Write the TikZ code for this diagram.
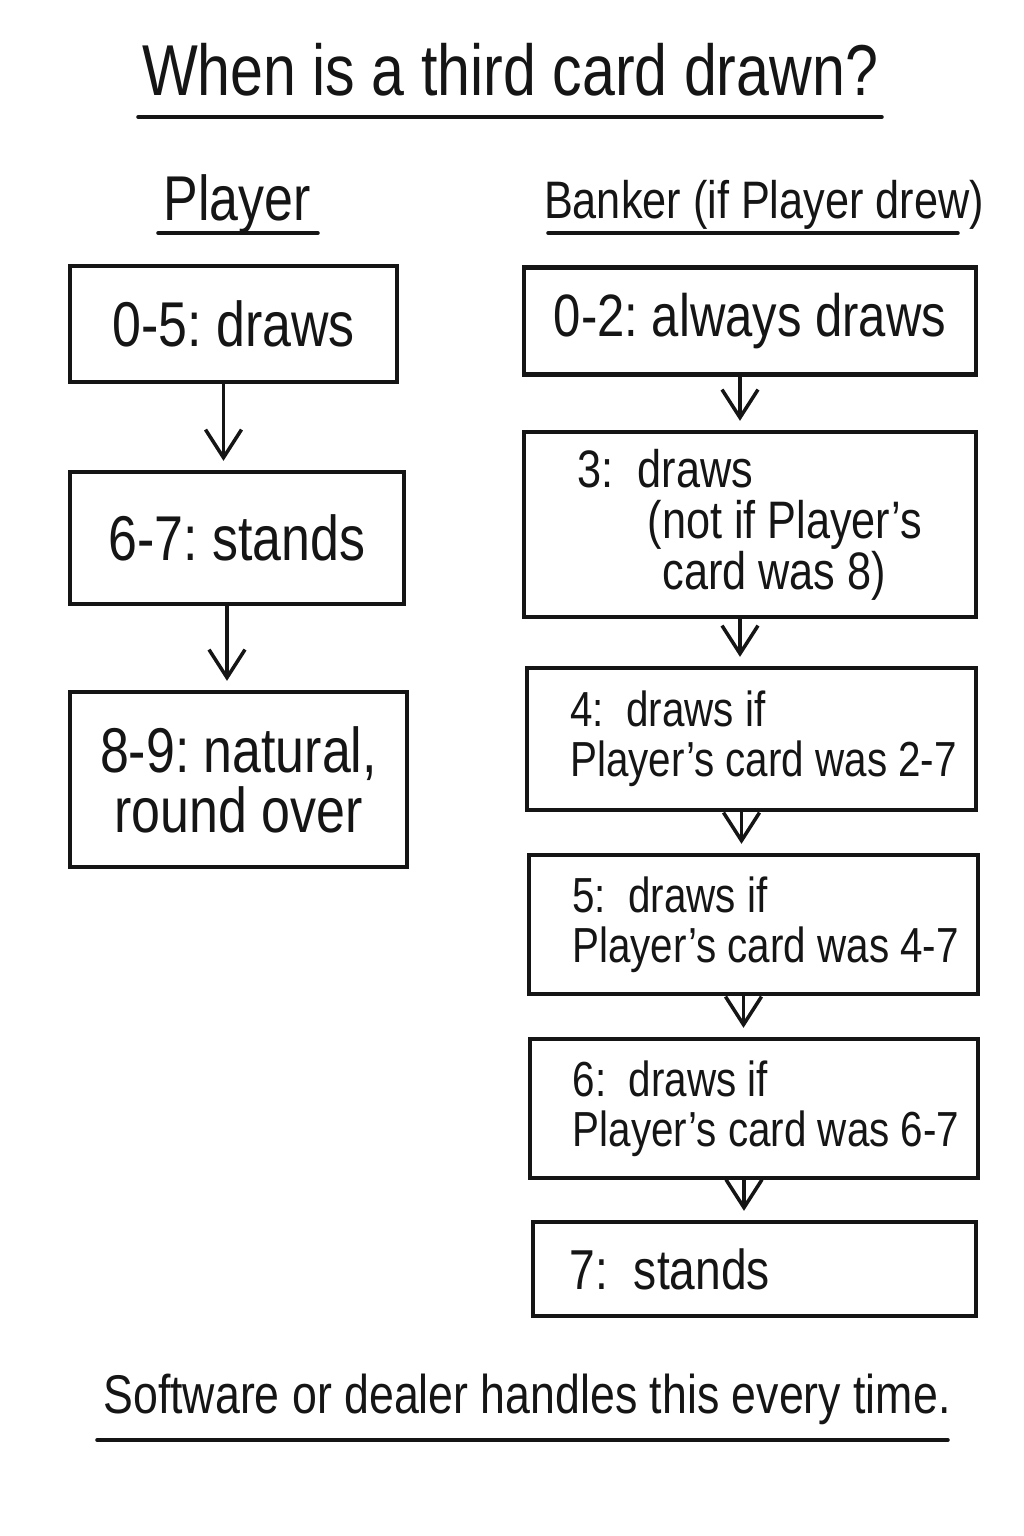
\documentclass[tikz,border=0pt]{standalone}
\usepackage{fontspec}
\setmainfont{Liberation Sans}[FakeStretch=0.82]
\usetikzlibrary{arrows.meta,positioning,calc}
\definecolor{ink}{HTML}{151515}
\tikzset{
  >={Straight Barb[length=2.8mm,width=3.6mm]},
  % boxes
  pbox/.style={draw=ink,line width=1.2pt,inner sep=0pt,align=center,
               text=ink,font=\fontsize{18}{17}\selectfont},
  bbox/.style={draw=ink,line width=1.2pt,inner sep=0pt,align=flush left,
               text=ink,font=\fontsize{14}{14.2}\selectfont},
  % lines
  flow/.style={->,draw=ink,line width=1pt,shorten >=0.9mm},
  uline/.style={draw=ink,line width=1pt,line cap=round},
  head/.style={anchor=base,text=ink,font=\fontsize{18}{22}\selectfont},
}
\newcommand\ind{\hspace*{2.4mm}}
\begin{document}
\begin{tikzpicture}[x=0.01cm,y=-0.01cm]
  \useasboundingbox (0,0) rectangle (1024,1536);
  % titles
  \node[head,font=\fontsize{20.5}{24}\selectfont] (title) at (510,95) {When is a third card drawn?};
  \node[head] (phead) at (237,220) {Player};
  \node[head,font=\fontsize{15}{18}\selectfont] (bhead) at (764,218) {Banker (if Player drew)};
  \node[head,font=\fontsize{15.5}{19}\selectfont] (foot) at (527,1413) {Software or dealer handles this every time.};
  \coordinate (t0) at (138,117);  \coordinate (t1) at (882,117);
  \coordinate (p0) at (158,233);  \coordinate (p9) at (318,233);
  \coordinate (k0) at (548,233);  \coordinate (k9) at (958,233);
  \coordinate (f0) at (97,1440);  \coordinate (f9) at (948,1440);
  \draw[uline] (t0) -- (t1);
  \draw[uline] (p0) -- (p9);
  \draw[uline] (k0) -- (k9);
  \draw[uline] (f0) -- (f9);
  % player
  \node[pbox,minimum width=3.27cm,minimum height=1.16cm] (p1) at (233.5,324) {0-5:~draws};
  \node[pbox,minimum width=3.34cm,minimum height=1.32cm] (p2) at (237,538) {6-7:~stands};
  \node[pbox,minimum width=3.37cm,minimum height=1.75cm] (p3) at (238.5,779.5) {8-9:~natural,\\round over};
  % banker
  \node[pbox,font=\fontsize{17}{20}\selectfont,minimum width=4.52cm,minimum height=1.07cm] (b1) at (750,321) {0-2:~always draws};
  \node[bbox,font=\fontsize{15}{14.5}\selectfont,minimum width=4.52cm,minimum height=1.85cm] (b2) at (750,524.5)
    {3:~~draws\\\hspace*{7mm}(not if Player's\\\hspace*{8.5mm}card was 8)};
  \node[bbox,minimum width=4.49cm,minimum height=1.42cm] (b3) at (751.5,739) {\ind 4:~~draws if\\\ind Player's card was 2-7};
  \node[bbox,minimum width=4.49cm,minimum height=1.39cm] (b4) at (753.5,924.5) {\ind 5:~~draws if\\\ind Player's card was 4-7};
  \node[bbox,minimum width=4.48cm,minimum height=1.39cm] (b5) at (754,1108.5) {\ind 6:~~draws if\\\ind Player's card was 6-7};
  \node[bbox,font=\fontsize{16}{19}\selectfont,text width=3.69cm,inner xsep=3.7mm,minimum height=0.94cm] (b6) at (754.5,1269) {7:~~stands};
  % arrows, a little left of the box centres
  \foreach \a/\b in {p1/p2,p2/p3,b1/b2,b2/b3,b3/b4,b4/b5,b5/b6}
    \draw[flow] ($(\a.south)+(-10,0)$) -- ($(\a.south |- \b.north)+(-10,0)$);
\end{tikzpicture}
\end{document}
